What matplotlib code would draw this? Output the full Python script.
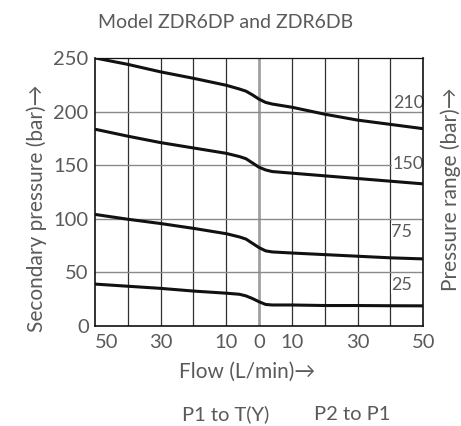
import matplotlib
matplotlib.use('Agg')
import matplotlib.pyplot as plt

plt.rcParams['font.family'] = ['Lato', 'DejaVu Sans']

# flow: negative = P1 to T(Y), positive = P2 to P1
flow = [-50, -40, -30, -20, -10, -6, -4, -2, 0, 2, 4, 10, 20, 30, 40, 50]
p210 = [250, 244, 237, 231, 224.5, 221, 219, 215.5, 211.5, 208.5, 207, 204, 197.5, 192, 188, 184]
p150 = [183.5, 177, 171, 166, 161, 158, 156, 152, 148, 145.5, 144, 142.5, 140, 137.5, 135, 132.5]
p75 = [104, 99.5, 95.5, 91, 86, 83, 81, 77, 73, 70, 69, 68, 66.5, 65, 63.5, 62.5]
p25 = [39, 37, 35, 32.5, 30.5, 29.5, 28, 25.5, 22.5, 20, 19.5, 19.5, 19, 19, 18.8, 18.7]

curves = [p210, p150, p75, p25]
range_labels = ['210', '150', '75', '25']
label_pos = [(45.5, 208), (45.5, 151), (43.5, 88), (43.5, 38)]

x_ticks = list(range(-50, 51, 10))
x_labels = ['50', '', '30', '', '10', '0', '10', '', '30', '', '50']
y_ticks = [0, 50, 100, 150, 200, 250]

txt = '#5a5a5a'

fig = plt.figure(figsize=(4.61, 4.26), dpi=100)
ax = fig.add_axes([0.206, 0.235, 0.712, 0.629])

# grid
for x in x_ticks[1:-1]:
    if x == 0:
        ax.axvline(x, color='#a0a0a0', lw=2.0, zorder=1)
    else:
        ax.axvline(x, color='#303030', lw=0.9, zorder=1)
for y in y_ticks[1:-1]:
    ax.axhline(y, color='#8a8a8a', lw=1.0, zorder=1)

for c in curves:
    ax.plot(flow, c, color='#111111', lw=2.2, solid_capstyle='butt', zorder=3)

for lab, (x, y) in zip(range_labels, label_pos):
    ax.text(x, y, lab, color=txt, fontsize=13, ha='center', va='center', zorder=2,
            bbox=dict(facecolor='white', edgecolor='none', pad=0.3))

ax.set_xlim(-50, 50)
ax.set_ylim(0, 250)
ax.set_xticks(x_ticks)
ax.set_xticklabels(x_labels)
ax.get_xticklabels()[0].set_horizontalalignment('left')
ax.set_yticks(y_ticks)
ax.tick_params(length=0, labelsize=14.5, labelcolor=txt)
ax.tick_params(axis='y', pad=4.5)
ax.tick_params(axis='x', pad=6)
for s in ax.spines.values():
    s.set_color('#111111')
    s.set_linewidth(1.2)
ax.spines['top'].set_linewidth(0.9)

fig.text(0.08, 0.512, 'Secondary pressure (bar)→', rotation=90, fontsize=15,
         color=txt, ha='center', va='center')
fig.text(0.535, 0.128, 'Flow (L/min)→', fontsize=15, color=txt,
         ha='center', va='center')
fig.text(0.978, 0.556, 'Pressure range (bar)→', rotation=90, fontsize=15,
         color=txt, ha='center', va='center')
fig.text(0.49, 0.948, 'Model ZDR6DP and ZDR6DB', fontsize=14, color=txt,
         ha='center', va='center')
fig.text(0.49, 0.028, 'P1 to T(Y)', fontsize=14.5, color=txt, ha='center', va='center')
fig.text(0.765, 0.028, 'P2 to P1', fontsize=14.5, color=txt, ha='center', va='center')

fig.savefig('out.png', dpi=100)
